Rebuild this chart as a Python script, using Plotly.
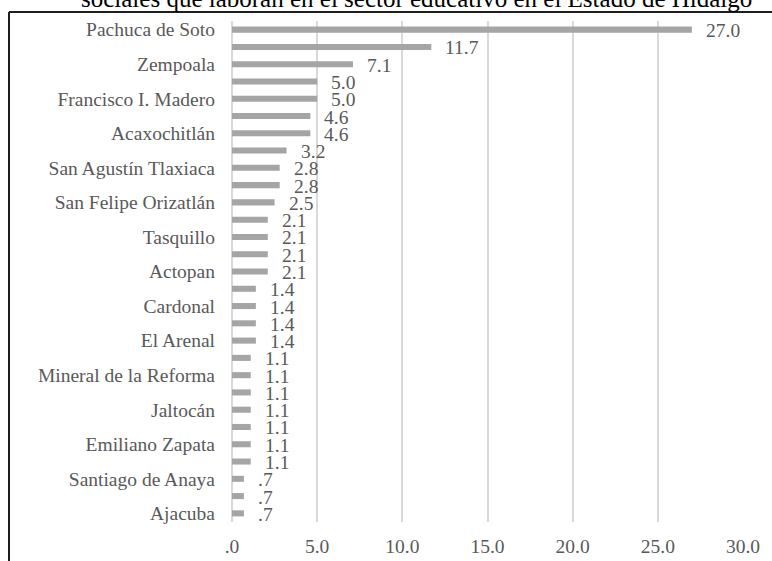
import plotly.graph_objects as go

# Percentage of social-science graduates working in education, by municipality
values = [27.0, 11.7, 7.1, 5.0, 5.0, 4.6, 4.6, 3.2, 2.8, 2.8, 2.5,
          2.1, 2.1, 2.1, 2.1, 1.4, 1.4, 1.4, 1.4,
          1.1, 1.1, 1.1, 1.1, 1.1, 1.1, 1.1, 0.7, 0.7, 0.7]

# Only every other municipality is named on the axis
axis_names = ["Pachuca de Soto", "Zempoala", "Francisco I. Madero", "Acaxochitlán",
              "San Agustín Tlaxiaca", "San Felipe Orizatlán", "Tasquillo", "Actopan",
              "Cardonal", "El Arenal", "Mineral de la Reforma", "Jaltocán",
              "Emiliano Zapata", "Santiago de Anaya", "Ajacuba"]

x_ticks = [0, 5, 10, 15, 20, 25, 30]
x_tick_text = [".0", "5.0", "10.0", "15.0", "20.0", "25.0", "30.0"]

title_text = "sociales que laboran en el sector educativo en el Estado de Hidalgo"

FONT = "Liberation Serif, Times New Roman, serif"
W, H = 772, 561
ML, MR, MT, MB = 232, 29, 21, 39
PW, PH = W - ML - MR, H - MT - MB

ranks = list(range(len(values)))


def fmt(v):
    s = f"{v:.1f}"
    return s[1:] if s.startswith("0") else s


fig = go.Figure()
fig.add_trace(go.Bar(
    x=values,
    y=ranks,
    orientation="h",
    marker=dict(color="#A5A5A5", line=dict(width=0)),
    hoverinfo="x",
))

# Value labels placed just past each bar end
for r, v in zip(ranks, values):
    fig.add_annotation(
        x=v, y=r, xref="x", yref="y",
        text=fmt(v), showarrow=False,
        xanchor="left", yanchor="middle", xshift=12, yshift=-1,
        font=dict(family=FONT, size=19.5, color="#595959"),
    )


def px_to_paper_x(px):
    return (px - ML) / PW


def px_to_paper_y(py):
    return 1 + (MT - py) / PH


# Heading line (only its last line sits inside the page)
fig.add_annotation(
    x=px_to_paper_x(416), y=px_to_paper_y(14), xref="paper", yref="paper",
    text=title_text, showarrow=False, xanchor="center", yanchor="bottom",
    font=dict(family=FONT, size=25, color="#000000"),
)

# Outer frame: left and top borders
frame = dict(color="#1F1F1F", width=2)
fig.add_shape(type="line", xref="paper", yref="paper",
              x0=px_to_paper_x(9), x1=px_to_paper_x(W + 20),
              y0=px_to_paper_y(12), y1=px_to_paper_y(12), line=frame)
fig.add_shape(type="line", xref="paper", yref="paper",
              x0=px_to_paper_x(9), x1=px_to_paper_x(9),
              y0=px_to_paper_y(12), y1=px_to_paper_y(H + 20), line=frame)

fig.update_layout(
    width=W, height=H,
    margin=dict(l=ML, r=MR, t=MT, b=MB, pad=0, autoexpand=False),
    paper_bgcolor="white", plot_bgcolor="white",
    bargap=0.65, showlegend=False,
    font=dict(family=FONT, size=19.5, color="#595959"),
)

fig.update_xaxes(
    range=[0, 30], tickvals=x_ticks, ticktext=x_tick_text,
    showgrid=True, gridcolor="#D9D9D9", gridwidth=1.5,
    zeroline=True, zerolinecolor="#D9D9D9", zerolinewidth=1.5,
    showline=False, ticks="", ticklabelstandoff=10, automargin=False,
    tickfont=dict(family=FONT, size=19.5, color="#595959"),
    fixedrange=True,
)
fig.update_yaxes(
    range=[len(values) - 0.5, -0.5],
    tickvals=ranks[::2], ticktext=axis_names,
    showgrid=False, zeroline=False, showline=False, ticks="",
    ticklabelstandoff=16, automargin=False,
    tickfont=dict(family=FONT, size=19.5, color="#595959"),
    fixedrange=True,
)

fig.write_html("out.html")
